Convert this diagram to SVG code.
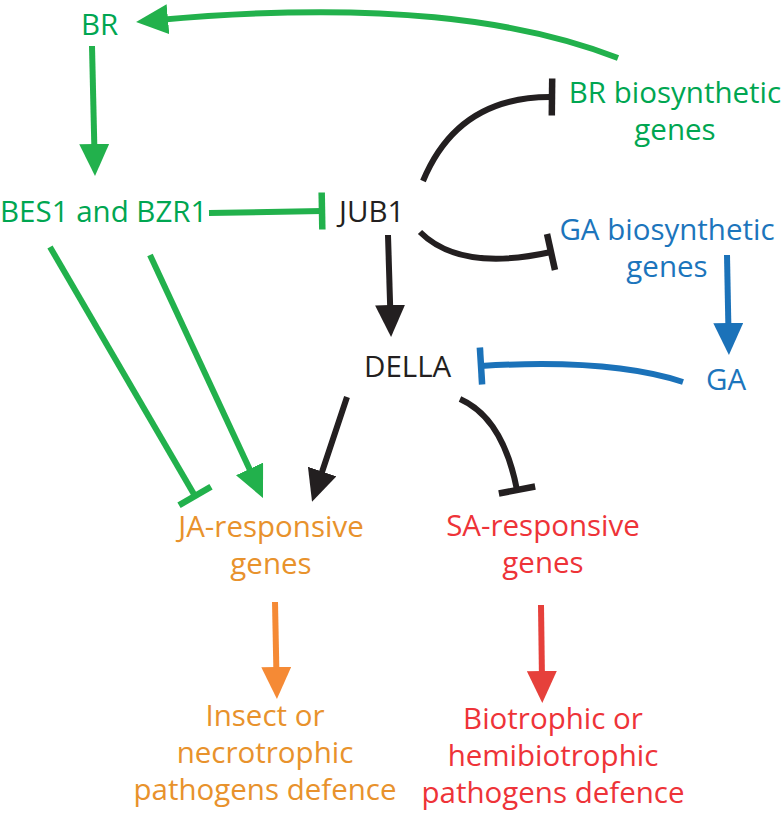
<svg xmlns="http://www.w3.org/2000/svg" width="784" height="822" viewBox="0 0 784 822">
<style>
text{font-family:"Open Sans","Noto Sans","DejaVu Sans",sans-serif;font-size:29.5px}
.g{fill:#00a651}.b{fill:#1c75bc}.k{fill:#231f20}.o{fill:#e8922c}.r{fill:#ee3338}
.c{text-anchor:middle}
.ln{fill:none;stroke-width:6}
.lg{stroke:#22b14c}.lb{stroke:#1b72b9}.lk{stroke:#231f20}.lo{stroke:#f58a35}.lr{stroke:#e6403b}
</style>
<defs>
<marker id="ag" markerUnits="userSpaceOnUse" markerWidth="32" markerHeight="30" viewBox="0 0 32 30" refX="10" refY="15" orient="auto"><path d="M0,0L32,15L0,30z" fill="#22b14c"/></marker>
<marker id="ak" markerUnits="userSpaceOnUse" markerWidth="32" markerHeight="30" viewBox="0 0 32 30" refX="10" refY="15" orient="auto"><path d="M0,0L32,15L0,30z" fill="#231f20"/></marker>
<marker id="ab" markerUnits="userSpaceOnUse" markerWidth="32" markerHeight="30" viewBox="0 0 32 30" refX="10" refY="15" orient="auto"><path d="M0,0L32,15L0,30z" fill="#1b72b9"/></marker>
<marker id="ao" markerUnits="userSpaceOnUse" markerWidth="32" markerHeight="30" viewBox="0 0 32 30" refX="10" refY="15" orient="auto"><path d="M0,0L32,15L0,30z" fill="#f58a35"/></marker>
<marker id="ar" markerUnits="userSpaceOnUse" markerWidth="32" markerHeight="30" viewBox="0 0 32 30" refX="10" refY="15" orient="auto"><path d="M0,0L32,15L0,30z" fill="#e6403b"/></marker>
<marker id="tg" markerUnits="userSpaceOnUse" markerWidth="8" markerHeight="38" viewBox="-4 -19 8 38" refX="0" refY="0" orient="auto"><rect x="-3.25" y="-18.5" width="6.5" height="37" fill="#22b14c"/></marker>
<marker id="tk" markerUnits="userSpaceOnUse" markerWidth="8" markerHeight="38" viewBox="-4 -19 8 38" refX="0" refY="0" orient="auto"><rect x="-3.25" y="-18.5" width="6.5" height="37" fill="#231f20"/></marker>
<marker id="tb" markerUnits="userSpaceOnUse" markerWidth="8" markerHeight="38" viewBox="-4 -19 8 38" refX="0" refY="0" orient="auto"><rect x="-3.25" y="-18.5" width="6.5" height="37" fill="#1b72b9"/></marker>
</defs>
<g id="connectors">
<path class="ln lg" d="M618 58C520 20 380 0 158 20" marker-end="url(#ag)"/>
<path class="ln lg" d="M92 46L94.5 154" marker-end="url(#ag)"/>
<path class="ln lg" d="M209 213L322 211" marker-end="url(#tg)"/>
<path class="ln lg" d="M50 247L195 496" marker-end="url(#tg)"/>
<path class="ln lg" d="M150 255L253.7 478" marker-end="url(#ag)"/>
<path class="ln lk" d="M347 397L319 481" marker-end="url(#ak)"/>
<path class="ln lk" d="M388 235L390.4 315" marker-end="url(#ak)"/>
<path class="ln lk" d="M423 181Q458 96 552 97" marker-end="url(#tk)"/>
<path class="ln lk" d="M420 232Q460 272 551 252" marker-end="url(#tk)"/>
<path class="ln lk" d="M460 399Q503 418 517 490" marker-end="url(#tk)"/>
<path class="ln lb" d="M727 255L728.5 333" marker-end="url(#ab)"/>
<path class="ln lb" d="M683 382C640 368 580 360 481 366" marker-end="url(#tb)"/>
<path class="ln lo" d="M275 602L276.5 677" marker-end="url(#ao)"/>
<path class="ln lr" d="M541 605L542 681" marker-end="url(#ar)"/>
</g>
<g id="BR"><text class="g" x="81" y="35">BR</text></g>
<g id="BES1_BZR1"><text class="g" x="0" y="222">BES1 and BZR1</text></g>
<g id="JUB1"><text class="k" x="339" y="222">JUB1</text></g>
<g id="BR_biosynthetic_genes"><text class="g c" x="675" y="103">BR biosynthetic<tspan x="675" dy="37">genes</tspan></text></g>
<g id="GA_biosynthetic_genes"><text class="b c" x="667" y="240">GA biosynthetic<tspan x="667" dy="37">genes</tspan></text></g>
<g id="GA"><text class="b" x="706" y="390">GA</text></g>
<g id="DELLA"><text class="k" x="364" y="377">DELLA</text></g>
<g id="JA_responsive_genes"><text class="o c" x="271" y="537">JA-responsive<tspan x="271" dy="37">genes</tspan></text></g>
<g id="SA_responsive_genes"><text class="r c" x="543" y="536">SA-responsive<tspan x="543" dy="37">genes</tspan></text></g>
<g id="insect_defence"><text class="o c" x="265" y="726">Insect or<tspan x="265" dy="37">necrotrophic</tspan><tspan x="265" dy="37">pathogens defence</tspan></text></g>
<g id="biotrophic_defence"><text class="r c" x="553" y="729">Biotrophic or<tspan x="553" dy="37">hemibiotrophic</tspan><tspan x="553" dy="37">pathogens defence</tspan></text></g>
</svg>
